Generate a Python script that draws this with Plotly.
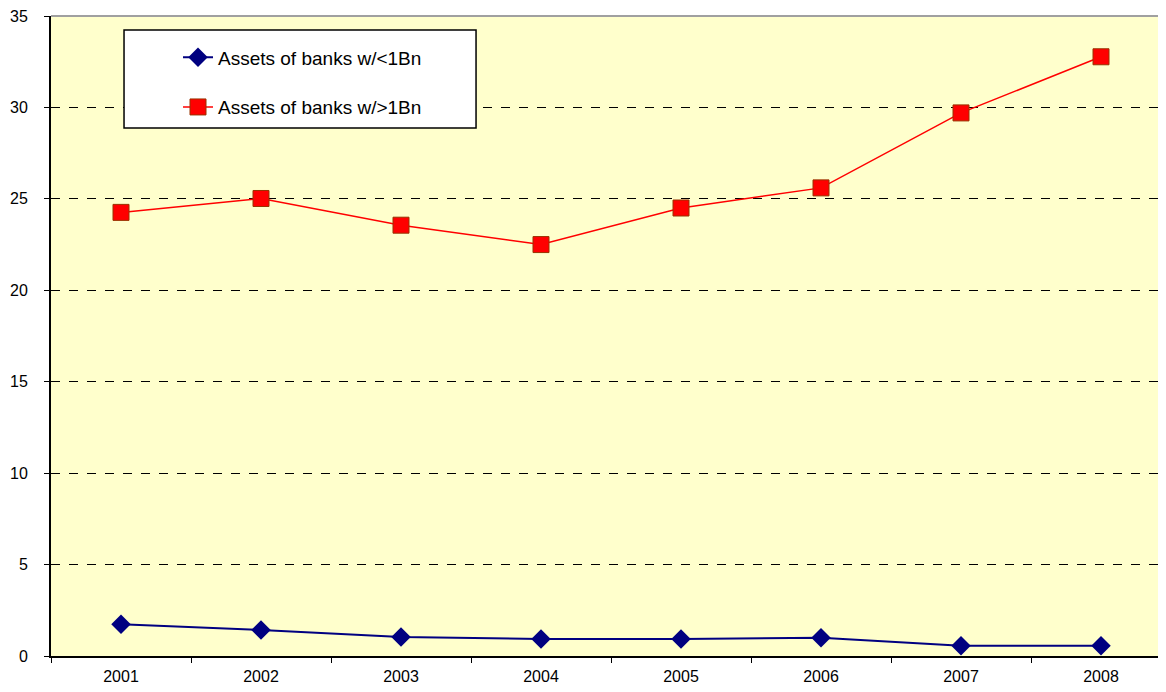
import plotly.graph_objects as go

years = ["2001", "2002", "2003", "2004", "2005", "2006", "2007", "2008"]
small_banks = [1.73, 1.42, 1.04, 0.93, 0.93, 1.0, 0.56, 0.56]
large_banks = [24.26, 25.02, 23.56, 22.5, 24.5, 25.6, 29.7, 32.77]
y_ticks = [0, 5, 10, 15, 20, 25, 30, 35]

fig = go.Figure()
fig.add_trace(go.Scatter(
    x=years, y=small_banks, name="Assets of banks w/&lt;1Bn",
    mode="lines+markers", legendgroup="a",
    line=dict(color="#000080", width=2),
    marker=dict(symbol="diamond", size=15, color="#000080"),
))
fig.add_trace(go.Scatter(
    x=years, y=large_banks, name="Assets of banks w/&gt;1Bn",
    mode="lines+markers", legendgroup="b",
    line=dict(color="#FF0000", width=1.5),
    marker=dict(symbol="square", size=16, color="#FF0000",
                line=dict(color="#993300", width=1)),
))

fig.update_layout(
    width=1166, height=692,
    margin=dict(l=43, r=3, t=8, b=44, autoexpand=False),
    paper_bgcolor="white",
    plot_bgcolor="#FFFFCC",
    font=dict(family="Liberation Sans, Arial, sans-serif", size=16, color="black"),
    showlegend=True,
    legend=dict(
        x=0.1134, y=0.965, xanchor="left", yanchor="top",
        bgcolor="rgba(0,0,0,0)", borderwidth=0,
        font=dict(size=19), tracegroupgap=22, traceorder="grouped",
    ),
    xaxis=dict(
        type="category", range=[-0.5, 7.5], automargin=False,
        showline=True, linecolor="black", linewidth=2,
        ticks="outside", tickson="boundaries", ticklen=5, tickcolor="black",
        ticklabelstandoff=5,
        showgrid=False, zeroline=False,
    ),
    yaxis=dict(
        range=[0, 35], tickvals=y_ticks, automargin=False,
        showline=True, linecolor="black", linewidth=2,
        ticks="outside", ticklen=5, tickcolor="black",
        ticklabelstandoff=13, ticklabeloverflow="allow",
        showgrid=True, gridcolor="black", griddash="dash", gridwidth=1.2,
        zeroline=False,
    ),
    shapes=[
        dict(type="line", xref="paper", yref="paper", x0=0, x1=1, y0=1, y1=1,
             line=dict(color="#A0A0A0", width=2)),
        dict(type="rect", xref="paper", yref="paper",
             x0=0.0652, x1=0.3795, y0=0.825, y1=0.978,
             fillcolor="white", line=dict(color="black", width=1.5), layer="above"),
    ],
)

fig.write_html("out.html")
